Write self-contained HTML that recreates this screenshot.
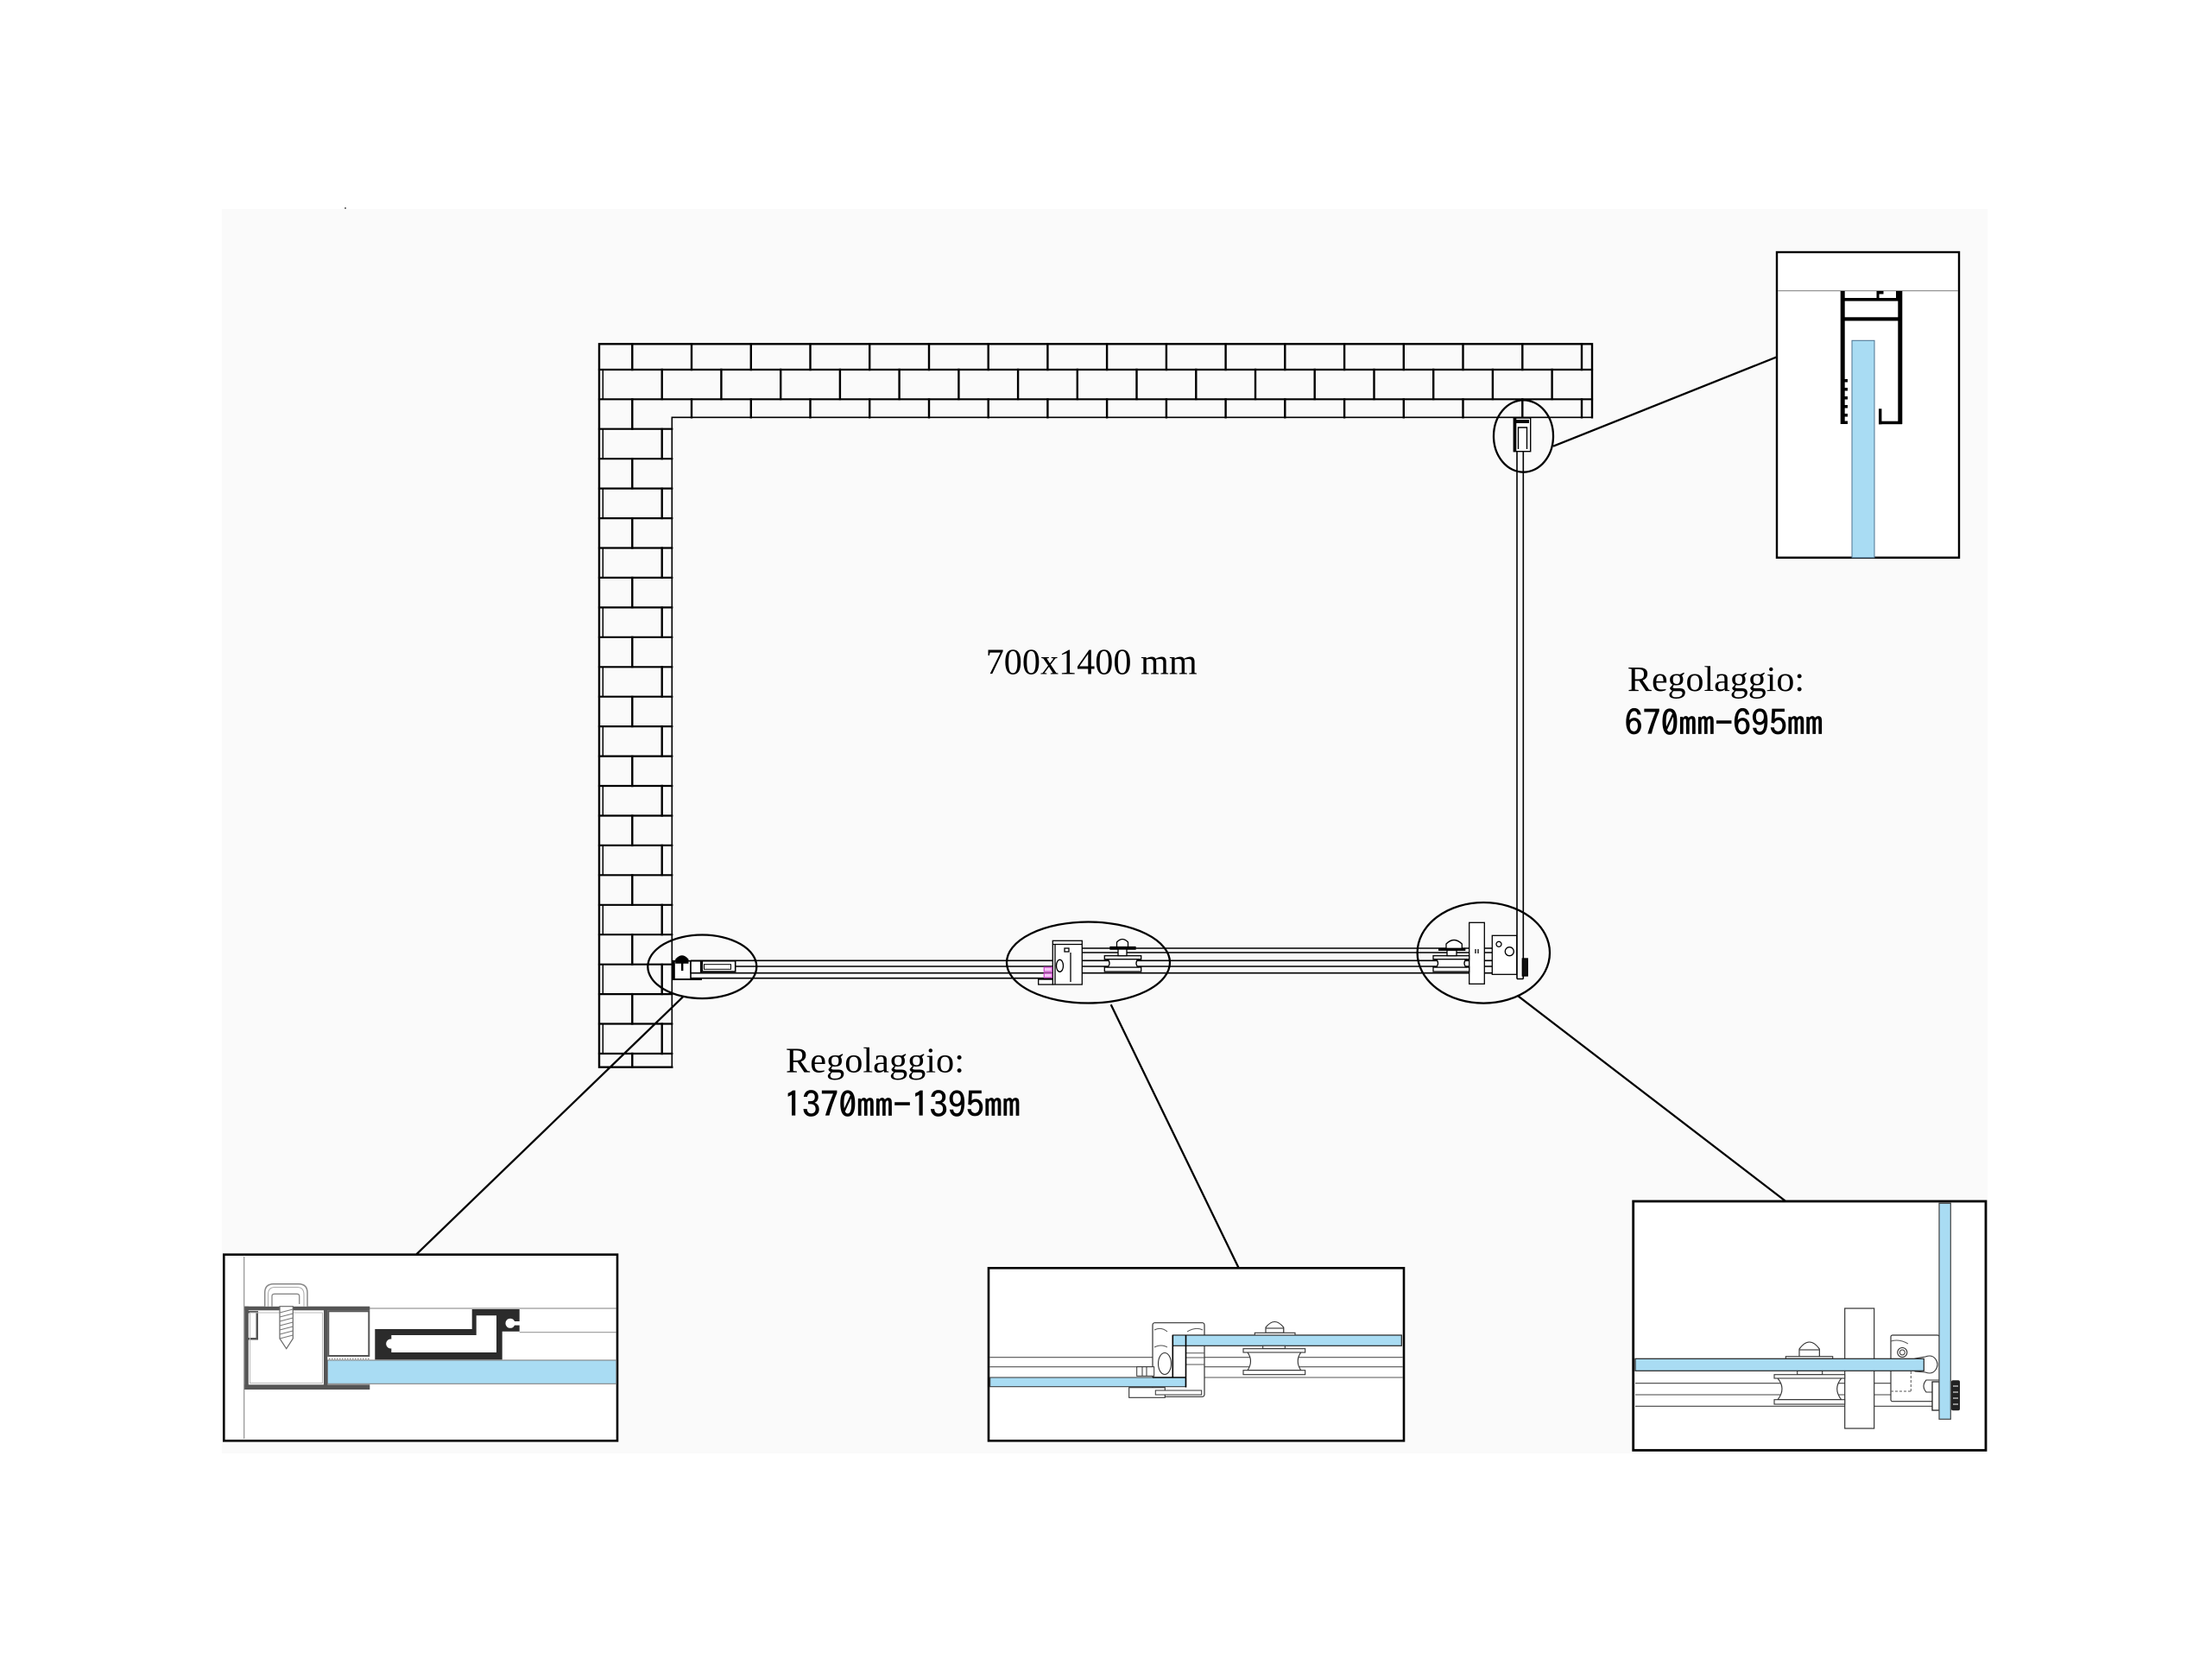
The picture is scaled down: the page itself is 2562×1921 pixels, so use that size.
<!DOCTYPE html>
<html><head><meta charset="utf-8"><style>
html,body{margin:0;padding:0;background:#fff}
svg{display:block}
</style></head><body>
<svg width="2562" height="1921" viewBox="0 0 2562 1921" xmlns="http://www.w3.org/2000/svg">
<rect x="0" y="0" width="2562" height="1921" fill="#fff"/>
<rect x="257" y="242" width="2045" height="1441" fill="#fafafa"/>
<circle cx="400" cy="241" r="1" fill="#555"/>

<!-- ===== Brick wall ===== -->
<g fill="none" stroke="#000" stroke-linecap="square">
  <path d="M778.3 1235.7 H694 V398.3 H1844 V483.3" stroke-width="2.4"/>
  <path d="M1844 483.3 H778.3 V1235.7" stroke-width="1.6"/>
  <path stroke-width="2.2" d="M694 428H1844 M694 462.3H1844
  M694 496.7H778.3 M694 531.2H778.3 M694 565.6H778.3 M694 600.1H778.3 M694 634.5H778.3 M694 668.9H778.3 M694 703.4H778.3 M694 737.8H778.3 M694 772.3H778.3 M694 806.7H778.3 M694 841.1H778.3 M694 875.6H778.3 M694 910H778.3 M694 944.5H778.3 M694 978.9H778.3 M694 1013.3H778.3 M694 1047.8H778.3 M694 1082.2H778.3 M694 1116.7H778.3 M694 1151.1H778.3 M694 1185.5H778.3 M694 1220H778.3"/>
  <path stroke-width="2.4" d="M732.3 398.3V428 M801 398.3V428 M869.8 398.3V428 M938.5 398.3V428 M1007.2 398.3V428 M1076 398.3V428 M1144.7 398.3V428 M1213.4 398.3V428 M1282.1 398.3V428 M1350.9 398.3V428 M1419.6 398.3V428 M1488.3 398.3V428 M1557.1 398.3V428 M1625.8 398.3V428 M1694.5 398.3V428 M1763.3 398.3V428 M1832 398.3V428"/>
  <path stroke-width="2.4" d="M766.7 428V462.3 M835.4 428V462.3 M904.2 428V462.3 M972.9 428V462.3 M1041.6 428V462.3 M1110.4 428V462.3 M1179.1 428V462.3 M1247.8 428V462.3 M1316.5 428V462.3 M1385.3 428V462.3 M1454 428V462.3 M1522.7 428V462.3 M1591.5 428V462.3 M1660.2 428V462.3 M1728.9 428V462.3 M1797.6 428V462.3"/>
  <path stroke-width="2.4" d="M801 462.3V483.3 M869.8 462.3V483.3 M938.5 462.3V483.3 M1007.2 462.3V483.3 M1076 462.3V483.3 M1144.7 462.3V483.3 M1213.4 462.3V483.3 M1282.1 462.3V483.3 M1350.9 462.3V483.3 M1419.6 462.3V483.3 M1488.3 462.3V483.3 M1557.1 462.3V483.3 M1625.8 462.3V483.3 M1694.5 462.3V483.3 M1763.3 462.3V483.3 M1832 462.3V483.3"/>
  <path stroke-width="2.4" d="M732.3 462.3V496.7 M732.3 531.2V565.6 M732.3 600.1V634.5 M732.3 668.9V703.4 M732.3 737.8V772.3 M732.3 806.7V841.1 M732.3 875.6V910 M732.3 944.5V978.9 M732.3 1013.3V1047.8 M732.3 1082.2V1116.7 M732.3 1151.1V1185.5 M732.3 1220V1235.7"/>
  <path stroke-width="2.4" d="M766.7 496.7V531.2 M766.7 565.6V600.1 M766.7 634.5V668.9 M766.7 703.4V737.8 M766.7 772.3V806.7 M766.7 841.1V875.6 M766.7 910V944.5 M766.7 978.9V1013.3 M766.7 1047.8V1082.2 M766.7 1116.7V1151.1 M766.7 1185.5V1220"/>
  <path stroke-width="1.5" d="M698.3 428V462.3 M698.3 496.7V531.2 M698.3 565.6V600.1 M698.3 634.5V668.9 M698.3 703.4V737.8 M698.3 772.3V806.7 M698.3 841.1V875.6 M698.3 910V944.5 M698.3 978.9V1013.3 M698.3 1047.8V1082.2 M698.3 1116.7V1151.1 M698.3 1185.5V1220"/>
</g>

<!-- ===== Glass / tracks in plan ===== -->
<g stroke="#000" stroke-width="1.6" fill="none">
  <path d="M800 1112.3H1757 M811 1119H1757 M811 1126.7H1757 M800 1132.7H1253 M1240 1098H1757 M1240 1103H1757"/>
  <path d="M1757 497V1133.5 M1764.3 497V1133.5 M1757 1133.5H1764.3"/>
</g>

<!-- top-right profile in plan -->
<g stroke="#000" fill="#fff" stroke-width="1.4">
  <rect x="1753.3" y="484" width="19.4" height="38.7"/>
  <rect x="1753.3" y="484" width="3" height="38.7" fill="#000" stroke="none"/>
  <rect x="1755" y="486" width="16" height="4" fill="#000" stroke="none"/>
  <path d="M1758.5 520V495H1768.5V520" fill="none"/>
</g>

<!-- left ellipse contents -->
<g stroke="#000" stroke-width="1.6" fill="#fff">
  <rect x="778.3" y="1112.7" width="21.7" height="21.3"/>
  <rect x="778.3" y="1112.7" width="3.5" height="21.3" fill="#000" stroke="none"/>
  <path d="M783 1115 V1111 Q790 1103 796.7 1111 V1115 Z" fill="#000"/>
  <rect x="789" y="1115" width="2.4" height="9" fill="#000" stroke="none"/>
  <rect x="800" y="1112.7" width="11.7" height="14"/>
  <path d="M778 1134 H813" fill="none" stroke-width="2"/>
  <rect x="813.3" y="1112.7" width="38.4" height="12.3"/>
  <rect x="815.5" y="1116.7" width="31" height="5.6" stroke-width="1"/>
</g>

<!-- middle ellipse contents -->
<g stroke="#000" stroke-width="1.3" fill="#fff">
  <rect x="1219.3" y="1089.3" width="34" height="50.7"/>
  <path d="M1219.3 1093.5H1253.3 M1240 1103V1137 M1222 1093.5V1140" fill="none"/>
  <rect x="1233" y="1098" width="5" height="4"/>
  <ellipse cx="1227.5" cy="1118.3" rx="4" ry="7"/>
  <rect x="1202.7" y="1134" width="16.6" height="6"/>
  <rect x="1209.3" y="1120" width="9" height="5" stroke="#d050d0" fill="#f5c8f5"/>
  <rect x="1209.3" y="1127" width="9" height="5" stroke="#d050d0" fill="#f5c8f5"/>
  <rect x="1279.3" y="1106.7" width="42.4" height="4"/>
  <rect x="1279.3" y="1120" width="42.4" height="5"/>
  <path d="M1283 1110.7 Q1287 1115.3 1283 1120 H1318 Q1314 1115.3 1318 1110.7 Z"/>
  <rect x="1286" y="1096.5" width="29" height="2.6" fill="#000"/>
  <rect x="1295" y="1099" width="10" height="7.7"/>
  <path d="M1293.5 1096.5 V1091 Q1300 1084 1306.5 1091 V1096.5 Z"/>
</g>

<!-- right ellipse contents -->
<g stroke="#000" stroke-width="1.3" fill="#fff">
  <rect x="1701.7" y="1068.3" width="17.6" height="71"/>
  <rect x="1660" y="1106.7" width="41.7" height="4"/>
  <rect x="1660" y="1120" width="41.7" height="5"/>
  <path d="M1663.5 1110.7 Q1667.5 1115.3 1663.5 1120 H1698 Q1694 1115.3 1698 1110.7 Z"/>
  <rect x="1666.7" y="1098.3" width="30" height="2" fill="#000"/>
  <rect x="1676" y="1100.3" width="11" height="6.4"/>
  <path d="M1675 1098.3 V1093 Q1684 1084 1693.3 1093 V1098.3 Z"/>
  <path d="M1709 1099V1104 M1712 1099V1104" fill="none"/>
  <rect x="1728.3" y="1083.3" width="28.4" height="45"/>
  <circle cx="1736" cy="1093.3" r="3"/>
  <ellipse cx="1748.3" cy="1101.7" rx="5" ry="5"/>
  <rect x="1763.3" y="1110" width="6" height="20" fill="#111"/>
</g>

<!-- ===== ellipses ===== -->
<g fill="none" stroke="#000" stroke-width="2.3">
  <ellipse cx="1764.5" cy="505" rx="34.5" ry="41.7"/>
  <ellipse cx="813.3" cy="1119.3" rx="63" ry="36.8"/>
  <ellipse cx="1260.5" cy="1114.5" rx="94.5" ry="47"/>
  <ellipse cx="1718.3" cy="1103.3" rx="76.7" ry="58.3"/>
</g>

<!-- ===== connectors ===== -->
<g stroke="#000" stroke-width="2.3" fill="none">
  <path d="M1799 516.7 L2058 413.3"/>
  <path d="M791 1154.3 L482 1452.7"/>
  <path d="M1286.7 1163.3 L1434.7 1468.3"/>
  <path d="M1758.3 1153.3 L2068.3 1391"/>
</g>

<!-- ===== texts ===== -->
<g fill="#000">
  <text x="1141.7" y="780.7" font-family="'Liberation Serif', serif" font-size="42" textLength="245" lengthAdjust="spacingAndGlyphs">700x1400 mm</text>
  <text x="1885" y="800" font-family="'Liberation Serif', serif" font-size="41" textLength="205" lengthAdjust="spacingAndGlyphs">Regolaggio:</text>
  <text x="1881.7" y="851.7" font-family="'IPAGothic', 'Liberation Sans', sans-serif" font-size="40" stroke="#000" stroke-width="0.7" textLength="230" lengthAdjust="spacingAndGlyphs">670mm-695mm</text>
  <text x="910" y="1241.7" font-family="'Liberation Serif', serif" font-size="41" textLength="207" lengthAdjust="spacingAndGlyphs">Regolaggio:</text>
  <text x="908" y="1293.3" font-family="'IPAGothic', 'Liberation Sans', sans-serif" font-size="40" stroke="#000" stroke-width="0.7" textLength="274" lengthAdjust="spacingAndGlyphs">1370mm-1395mm</text>
</g>

<!-- ===== Top-right detail box ===== -->
<g>
  <rect x="2058" y="292" width="211" height="353.7" fill="#fff" stroke="#000" stroke-width="2.4"/>
  <path d="M2059 336.7H2268" stroke="#888" stroke-width="1.2"/>
  <rect x="2145" y="394.3" width="26" height="251.4" fill="#a9dcf3" stroke="#4d7390" stroke-width="1"/>
  <g fill="#000">
    <rect x="2131.7" y="337" width="5" height="154"/>
    <rect x="2198.3" y="337" width="5" height="154"/>
    <rect x="2134" y="345" width="69" height="3.6"/>
    <rect x="2134" y="367.3" width="69" height="4.2"/>
    <rect x="2173.5" y="337" width="8" height="3.5"/>
    <rect x="2173.5" y="337" width="3" height="9"/>
    <rect x="2196" y="337" width="4" height="9"/>
    <rect x="2176" y="487.7" width="27" height="3.5"/>
    <rect x="2176" y="473.3" width="3.4" height="18"/>
    <rect x="2136" y="439" width="4" height="3.5"/>
    <rect x="2136" y="449" width="4" height="3.5"/>
    <rect x="2136" y="459" width="4" height="3.5"/>
    <rect x="2136" y="469" width="4" height="3.5"/>
    <rect x="2136" y="479" width="4" height="3.5"/>
    <rect x="2136" y="487.5" width="4" height="3.5"/>
  </g>
</g>

<!-- ===== Left detail box ===== -->
<g>
  <rect x="259.3" y="1452.7" width="455.7" height="215.6" fill="#fff" stroke="#000" stroke-width="2.6"/>
  <path d="M282.7 1455V1666" stroke="#999" stroke-width="1.3"/>
  <path d="M428 1515H713.5 M601.7 1542.7H713.5" stroke="#999" stroke-width="1.2"/>
  <rect x="379.3" y="1575" width="334.5" height="27.3" fill="#a9dcf3" stroke="#777" stroke-width="1"/>
  <path d="M381 1573.5H428" stroke="#777" stroke-width="1" stroke-dasharray="1.5 1.5"/>
  <g fill="#555">
    <rect x="283.3" y="1512.7" width="145" height="4.6"/>
    <rect x="283.3" y="1603.3" width="145" height="5.7"/>
    <rect x="283.3" y="1512.7" width="4.5" height="96"/>
    <rect x="375" y="1517" width="4.3" height="87"/>
    <rect x="287" y="1518" width="12" height="2.5"/>
    <rect x="287" y="1549" width="12" height="2.5"/>
    <rect x="296.5" y="1518" width="2.5" height="33"/>
  </g>
  <path d="M290 1528V1540 M290 1528H294 M290 1540H294" stroke="#fff" stroke-width="2" fill="none"/>
  <rect x="289.5" y="1520" width="84" height="81.5" fill="none" stroke="#bbb" stroke-width="1"/>
  <rect x="380.3" y="1518.3" width="47" height="51.7" fill="#fff" stroke="#555" stroke-width="2"/>
  <path d="M306.7 1512.7V1497Q306.7 1486.7 317 1486.7H345.7Q356 1486.7 356 1497V1512.7" fill="#fff" stroke="#888" stroke-width="1.5"/>
  <path d="M310.5 1512.7V1499Q310.5 1490.5 318.5 1490.5H344Q352 1490.5 352 1499V1512.7" fill="none" stroke="#aaa" stroke-width="1"/>
  <path d="M315 1512.7V1501Q315 1498.3 318 1498.3H344Q346.7 1498.3 346.7 1501V1510" fill="none" stroke="#888" stroke-width="1.3"/>
  <path d="M324 1512.7V1550L331.7 1561.7L339.3 1550V1512.7Z" fill="#fff" stroke="#666" stroke-width="1.2"/>
  <path d="M324 1520L339.3 1516 M324 1525L339.3 1521 M324 1530L339.3 1526 M324 1535L339.3 1531 M324 1540L339.3 1536 M324 1545L339.3 1541 M324 1550L339.3 1546" stroke="#777" stroke-width="1"/>
  <path fill="#2b2b2b" fill-rule="evenodd" d="M434.3 1539H546.7V1516H601.7V1541.7H581.7V1574.3H434.3Z M453.3 1546H551.7V1523.3H575V1566H453.3Z"/>
  <circle cx="591" cy="1532.3" r="5.5" fill="#fff"/>
  <rect x="591" y="1530" width="11" height="4.6" fill="#fff"/>
  <circle cx="452.7" cy="1556" r="5.5" fill="#fff"/>
  <rect x="452.7" y="1553.7" width="5" height="4.6" fill="#fff"/>
</g>

<!-- ===== Middle detail box ===== -->
<g>
  <rect x="1145" y="1468.3" width="481" height="200" fill="#fff" stroke="#000" stroke-width="2.6"/>
  <path d="M1146.5 1571.7H1624.5 M1146.5 1582.7H1624.5 M1146.5 1595H1624.5" stroke="#555" stroke-width="1.1"/>
  <rect x="1335" y="1531.7" width="60" height="85.6" rx="2.5" fill="#fff" stroke="#333" stroke-width="1.2"/>
  <path d="M1337 1540 Q1345 1536 1352 1542 M1375 1542 Q1385 1536 1393 1540 M1337 1560 Q1345 1556 1352 1560" fill="none" stroke="#555" stroke-width="1"/>
  <rect x="1307.7" y="1606.7" width="41.6" height="11.6" fill="#fff" stroke="#333" stroke-width="1.1"/>
  <rect x="1338.3" y="1610" width="53.4" height="5" fill="#fff" stroke="#333" stroke-width="1"/>
  <rect x="1316.7" y="1582.7" width="20" height="10.6" fill="#fff" stroke="#333" stroke-width="1"/>
  <path d="M1323 1582.7V1593.3 M1328 1582.7V1593.3" stroke="#333" stroke-width="1"/>
  <ellipse cx="1349" cy="1579" rx="7.5" ry="12.5" fill="#fff" stroke="#333" stroke-width="1.1"/>
  <path d="M1373.3 1566.7H1395 M1373.3 1572H1395 M1373.3 1580H1395" stroke="#555" stroke-width="1"/>
  <rect x="1146.7" y="1595" width="226.6" height="10.7" fill="#a9dcf3" stroke="#333" stroke-width="1"/>
  <rect x="1358.3" y="1546" width="265" height="12.3" fill="#a9dcf3" stroke="#222" stroke-width="1.2"/>
  <path d="M1358.3 1546V1595 M1373.5 1546V1606.5 M1335 1595H1373.5" stroke="#000" stroke-width="1.6"/>
  <g fill="#fff" stroke="#333" stroke-width="1.1">
    <path d="M1466 1543.3V1537Q1476.3 1524 1486.7 1537V1543.3Z"/>
    <rect x="1466" y="1538" width="20.7" height="5.3"/>
    <rect x="1453.3" y="1543.3" width="46.7" height="2.7"/>
    <rect x="1462.7" y="1558.3" width="25.6" height="3.4"/>
    <rect x="1440" y="1561.7" width="71.7" height="4.3"/>
    <path d="M1445 1566Q1452 1576 1445 1586.7H1506.7Q1499.7 1576 1506.7 1566Z"/>
    <rect x="1440" y="1586.7" width="71.7" height="5"/>
  </g>
</g>

<!-- ===== Right detail box ===== -->
<g>
  <rect x="1891.7" y="1391" width="408.3" height="288.3" fill="#fff" stroke="#000" stroke-width="2.8"/>
  <path d="M1894 1601.7H2245 M1894 1615H2245 M1894 1628.3H2245" stroke="#444" stroke-width="1.1"/>
  <rect x="2190" y="1546" width="56" height="76.7" rx="2" fill="#fff" stroke="#333" stroke-width="1.2"/>
  <path d="M2190 1553Q2200 1550 2210 1556" fill="none" stroke="#555" stroke-width="1"/>
  <path d="M2213.3 1588V1611 M2190 1611H2213.3" stroke="#555" stroke-width="1" stroke-dasharray="3 2"/>
  <circle cx="2203.3" cy="1566" r="5.5" fill="#fff" stroke="#333" stroke-width="1.1"/>
  <circle cx="2203.3" cy="1566" r="3" fill="none" stroke="#333" stroke-width="1"/>
  <path d="M2218 1573 L2230 1571 Q2238 1568 2242 1574 Q2246 1580 2242 1586 Q2238 1592 2230 1589 L2218 1588 Z" fill="#fff" stroke="#333" stroke-width="1.1"/>
  <path d="M2231 1598 Q2225 1605 2231 1612 H2246 V1598Z" fill="#fff" stroke="#333" stroke-width="1.1"/>
  <rect x="2238" y="1600" width="8" height="33" fill="#fff" stroke="#222" stroke-width="1.3"/>
  <rect x="2136.7" y="1515" width="34" height="139" fill="#fff" stroke="#333" stroke-width="1.2"/>
  <g fill="#fff" stroke="#333" stroke-width="1.1">
    <path d="M2084 1571.7V1562Q2095.7 1546 2107.3 1562V1571.7Z"/>
    <rect x="2084" y="1563" width="23.3" height="8.7"/>
    <rect x="2068.3" y="1570.7" width="54.4" height="2.6"/>
    <rect x="2081.7" y="1587.3" width="29" height="4.4"/>
    <rect x="2055" y="1591.7" width="81.7" height="4.3"/>
    <path d="M2059 1596Q2069 1608 2059 1620.7H2132.7Q2122.7 1608 2132.7 1596Z"/>
    <rect x="2055" y="1620.7" width="81.7" height="5.3"/>
  </g>
  <rect x="1894" y="1573.3" width="334.3" height="14" fill="#a9dcf3" stroke="#222" stroke-width="1.2"/>
  <rect x="2246" y="1393.3" width="13.3" height="250" fill="#a9dcf3" stroke="#444" stroke-width="1.2"/>
  <rect x="2260" y="1598.3" width="10" height="35" rx="2" fill="#222"/>
  <path d="M2262 1605H2268 M2262 1612H2268 M2262 1619H2268 M2262 1626H2268" stroke="#fff" stroke-width="1"/>
</g>
</svg>
</body></html>
